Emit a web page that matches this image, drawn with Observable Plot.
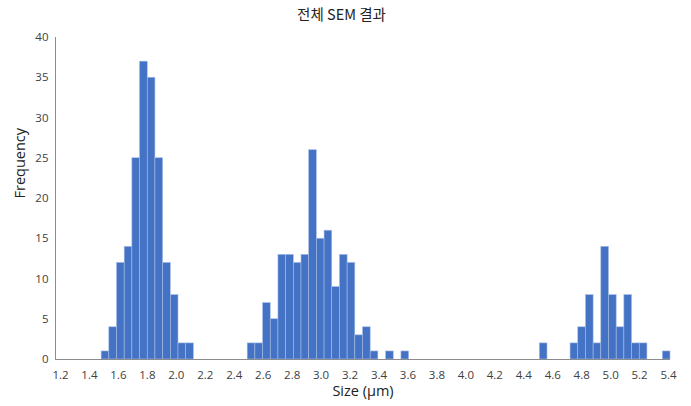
<!DOCTYPE html>
<html>
<head>
<meta charset="utf-8">
<script src="https://cdn.jsdelivr.net/npm/d3@7"></script>
<script src="https://cdn.jsdelivr.net/npm/@observablehq/plot@0.6"></script>
<style>
  body { margin: 0; background: #fff; }
  #title { height: 28px; line-height: 28px; font-family: "Noto Sans CJK KR", "Noto Sans", sans-serif; font-size: 14.5px; color: #222; text-align: center; width: 683px; }
  svg { display: block; }
</style>
</head>
<body>
<div id="title">전체 SEM 결과</div>
<div id="chart"></div>
<script>
// Histogram of particle sizes (μm): 80 equal bins
const binStart = 1.1655;   // lower edge of first bin (μm)
const binWidth = 0.0531;   // bin width (μm)
const counts = [
  0,0,0,0,0,0,
  1,4,12,14,25,37,35,25,12,8,2,2,
  0,0,0,0,0,0,0,
  2,2,7,5,13,13,12,13,26,15,16,9,13,12,3,4,1,0,1,0,1,
  0,0,0,0,0,0,0,0,0,0,0,0,0,0,0,0,0,
  2,
  0,0,0,
  2,4,8,2,14,8,4,8,2,2,
  0,0,
  1
];
const xTicks = [1.2,1.4,1.6,1.8,2.0,2.2,2.4,2.6,2.8,3.0,3.2,3.4,3.6,3.8,4.0,4.2,4.4,4.6,4.8,5.0,5.2,5.4];
const yTicks = [0,5,10,15,20,25,30,35,40];

const bins = counts.map((c, i) => ({
  x1: binStart + i * binWidth,
  x2: binStart + (i + 1) * binWidth,
  count: c
}));
const xMin = binStart, xMax = binStart + counts.length * binWidth;

const chart = Plot.plot({
  width: 691,
  height: 378,
  marginTop: 9,
  marginBottom: 47,
  marginLeft: 55,
  marginRight: 21,
  style: { fontFamily: "'Open Sans', sans-serif", fontSize: "11px", color: "#404040", background: "#fff" },
  x: { domain: [xMin, xMax] },
  y: { domain: [0, 40] },
  marks: [
    Plot.rectY(bins.filter(d => d.count > 0), {
      x1: "x1", x2: "x2", y: "count",
      fill: "#4472C4", stroke: "#a7bce4", strokeWidth: 0.6
    }),
    Plot.ruleY([0], { x1: xMin, x2: xMax, stroke: "#8c8c8c", strokeWidth: 1 }),
    Plot.ruleX([xMin], { y1: 0, y2: 40, stroke: "#8c8c8c", strokeWidth: 1 }),
    Plot.axisX(xTicks, { tickSize: 0, tickPadding: 11, tickFormat: d => d.toFixed(1), fontSize: 11.5, label: null }),
    Plot.axisY(yTicks, { tickSize: 0, tickPadding: 7, fontSize: 11.5, label: null }),
    Plot.text(["Size (μm)"], { frameAnchor: "bottom", dy: 36, fontSize: 14.5, fill: "#222" }),
    Plot.text(["Frequency"], { frameAnchor: "left", dx: -35, rotate: -90, fontSize: 14.5, fill: "#222" })
  ]
});
document.getElementById("chart").appendChild(chart);
</script>
</body>
</html>
